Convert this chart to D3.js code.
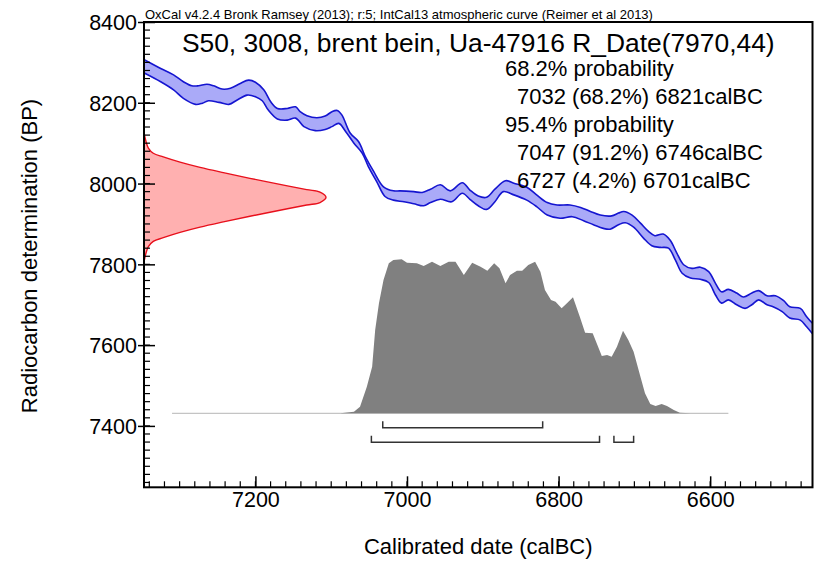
<!DOCTYPE html>
<html><head><meta charset="utf-8">
<script src="https://cdn.jsdelivr.net/npm/d3@7"></script>
<style>
body{margin:0;background:#fff}
text{font-family:"Liberation Sans",Arial,sans-serif;fill:#000}
</style>
</head><body>
<svg id="c" width="839" height="561"></svg>
<script>
// ---------- data ----------
const yTicks = [7400, 7600, 7800, 8000, 8200, 8400];
const xTicks = [7200, 7000, 6800, 6600];

const headerText = "OxCal v4.2.4 Bronk Ramsey (2013); r:5; IntCal13 atmospheric curve (Reimer et al 2013)";
const titleText = "S50, 3008, brent bein, Ua-47916 R_Date(7970,44)";
const statLines = ["68.2% probability", "7032 (68.2%) 6821calBC", "95.4% probability", "7047 (91.2%) 6746calBC", "6727 (4.2%) 6701calBC"];
const statIndent = [false, true, false, true, true];

// calibration curve (IntCal13) band edges, calBC year -> BP
const upperYear = [7346,7325,7308,7295,7284,7275,7264,7255,7244,7233,7220,7209,7200,7189,7180,7171,7158,7147,7141,7132,7119,7108,7099,7092,7086,7075,7064,7055,7044,7031,7018,7009,6991,6980,6969,6956,6943,6927,6917,6906,6895,6884,6870,6859,6842,6829,6815,6802,6785,6771,6758,6745,6730,6721,6714,6703,6692,6681,6673,6662,6653,6644,6635,6624,6613,6602,6593,6585,6576,6565,6556,6545,6536,6525,6514,6503,6495,6481,6473,6465];
const upperBP   = [8306,8285,8269,8252,8242,8242,8246,8242,8234,8236,8248,8256,8251,8232,8203,8186,8186,8190,8178,8168,8163,8167,8178,8181,8170,8125,8104,8067,8030,7992,7982,7982,7980,7978,7986,7997,7982,8002,7984,7969,7966,7986,8007,8001,7991,7972,7953,7947,7947,7941,7931,7922,7920,7927,7931,7922,7902,7881,7871,7875,7860,7828,7799,7790,7793,7782,7753,7732,7738,7729,7719,7729,7735,7722,7722,7710,7695,7691,7671,7654];
const lowerYear = [7346,7325,7308,7295,7279,7270,7262,7248,7235,7224,7211,7200,7191,7183,7171,7158,7147,7136,7121,7108,7099,7090,7081,7070,7059,7051,7040,7029,7018,7004,6991,6978,6969,6956,6941,6927,6917,6906,6895,6884,6873,6859,6842,6829,6815,6798,6782,6767,6754,6741,6732,6721,6712,6701,6688,6677,6666,6655,6646,6637,6626,6613,6602,6593,6585,6576,6565,6554,6545,6536,6525,6517,6505,6495,6481,6473,6465];
const lowerBP   = [8273,8252,8232,8211,8196,8199,8205,8201,8196,8207,8219,8215,8205,8182,8160,8157,8162,8141,8131,8134,8141,8149,8129,8100,8075,8042,8005,7968,7959,7955,7950,7945,7953,7961,7955,7976,7961,7945,7936,7955,7980,7972,7959,7943,7922,7914,7918,7908,7898,7889,7887,7898,7903,7892,7865,7846,7842,7840,7811,7778,7766,7763,7755,7724,7704,7712,7700,7691,7700,7712,7700,7695,7683,7667,7662,7646,7628];

// radiocarbon determination (BP) and relative density
const rcBP      = [8126,8104,8088,8075,8066,8053,8040,8027,8013,7998,7985,7979,7966,7953,7947,7934,7919,7905,7892,7879,7866,7857,7844,7828,7806];
const rcDensity = [0,0.011,0.024,0.051,0.106,0.198,0.308,0.436,0.582,0.747,0.894,0.967,1.0,0.967,0.894,0.747,0.582,0.436,0.308,0.198,0.106,0.051,0.024,0.011,0];

// calibrated probability distribution, calBC year -> relative probability
const calYear = [7310,7088,7070,7062,7053,7046,7042,7037,7031,7024,7018,7007,7000,6987,6978,6967,6956,6945,6936,6925,6914,6903,6894,6885,6878,6870,6864,6855,6848,6840,6831,6824,6818,6810,6804,6796,6789,6781,6772,6765,6755,6743,6736,6730,6723,6715,6708,6701,6692,6686,6679,6672,6664,6657,6648,6640,6626,6576];
const calProb = [0,0,0.01,0.043,0.173,0.303,0.541,0.714,0.866,0.974,0.995,1.0,0.978,0.974,0.956,0.984,0.956,0.984,0.984,0.898,0.978,0.952,0.926,0.974,0.942,0.844,0.898,0.926,0.926,0.963,0.984,0.919,0.801,0.736,0.725,0.682,0.714,0.753,0.627,0.523,0.519,0.372,0.379,0.368,0.432,0.536,0.476,0.4,0.238,0.13,0.06,0.047,0.06,0.047,0.021,0.004,0,0];

// highest probability ranges [from, to] calBC
const range68 = [[7032, 6821]];
const range95 = [[7047, 6746], [6727, 6701]];

// ---------- layout ----------
const L = 144, R = 812.5, T = 22, B = 487.3;
const svg = d3.select("#c");
const x = d3.scaleLinear().domain([7347, 6465]).range([L, R]);
const y = d3.scaleLinear().domain([7248, 8400]).range([B, T]);
const yProb = d3.scaleLinear().domain([0, 1]).range([413.3, 259.3]);
const xDens = d3.scaleLinear().domain([0, 1]).range([L, 326]);

svg.append("defs").append("clipPath").attr("id", "plotclip")
  .append("rect").attr("x", L).attr("y", T).attr("width", R - L).attr("height", B - T);

const plot = svg.append("g").attr("clip-path", "url(#plotclip)");

// calibration curve band
const upper = upperYear.map((d, i) => [x(d), y(upperBP[i])]);
const lower = lowerYear.map((d, i) => [x(d), y(lowerBP[i])]);
const edge = d3.line().curve(d3.curveCatmullRom);
const fillPath = edge(upper) + "L" + edge(lower.slice().reverse()).slice(1) + "Z";
plot.append("path").attr("d", fillPath).attr("fill", "#aaaaf8").attr("stroke", "none");
plot.append("path").attr("d", edge(upper)).attr("fill", "none").attr("stroke", "#1515d0").attr("stroke-width", 1.6);
plot.append("path").attr("d", edge(lower)).attr("fill", "none").attr("stroke", "#1515d0").attr("stroke-width", 1.6);

// radiocarbon determination
const rc = rcBP.map((d, i) => ({bp: d, p: rcDensity[i]}));
plot.append("path").datum(rc)
  .attr("d", d3.area().curve(d3.curveCatmullRom).y(d => y(d.bp)).x0(L).x1(d => xDens(d.p)))
  .attr("fill", "#ffb0b0");
plot.append("path").datum(rc)
  .attr("d", d3.line().curve(d3.curveCatmullRom).y(d => y(d.bp)).x(d => xDens(d.p)))
  .attr("fill", "none").attr("stroke", "#e8101c").attr("stroke-width", 1.4);

// calibrated distribution
const cal = calYear.map((d, i) => ({yr: d, p: calProb[i]}));
plot.append("line").attr("x1", x(calYear[0])).attr("x2", x(calYear[calYear.length - 1]))
  .attr("y1", yProb(0)).attr("y2", yProb(0)).attr("stroke", "#c4c4c4").attr("stroke-width", 1.2);
plot.append("path").datum(cal.slice(1, -1))
  .attr("d", d3.area().x(d => x(d.yr)).y0(yProb(0)).y1(d => yProb(d.p)))
  .attr("fill", "#808080");

// range brackets
function brackets(ranges, yy) {
  ranges.forEach(r => {
    const x1 = x(r[0]), x2 = x(r[1]);
    plot.append("path")
      .attr("d", `M${x1},${yy - 6.5}V${yy}H${x2}V${yy - 6.5}`)
      .attr("fill", "none").attr("stroke", "#333").attr("stroke-width", 1.5);
  });
}
brackets(range68, 427.7);
brackets(range95, 442.3);

// ---------- axes ----------
const fs = 21.5;
// y axis minor ticks
const yMinor = d3.range(7260, 8401, 20);
const yAx = svg.append("g");
yAx.selectAll("line.minor").data(yMinor).join("line")
  .attr("x1", L).attr("x2", L + 6).attr("y1", d => y(d)).attr("y2", d => y(d))
  .attr("stroke", "#000").attr("stroke-width", 1.2);
const yAxis = svg.append("g").attr("transform", `translate(${L},0)`)
  .call(d3.axisLeft(y).tickValues(yTicks).tickSizeOuter(0).tickFormat(d3.format("d")));
yAxis.select(".domain").remove();
yAxis.selectAll(".tick line").attr("x1", -6).attr("x2", 11).attr("stroke", "#000").attr("stroke-width", 1.5);
yAxis.selectAll(".tick text").attr("x", -7).attr("dy", "0.36em")
  .style("font-size", fs + "px").style("font-family", '"Liberation Sans",Arial,sans-serif');

// x axis
const xMinor = d3.range(6480, 7341, 20);
const xAx = svg.append("g");
xAx.selectAll("line.minor").data(xMinor).join("line")
  .attr("x1", d => x(d)).attr("x2", d => x(d)).attr("y1", B).attr("y2", B - 6)
  .attr("stroke", "#000").attr("stroke-width", 1.2);
const xAxis = svg.append("g").attr("transform", `translate(0,${B})`)
  .call(d3.axisBottom(x).tickValues(xTicks).tickSizeOuter(0).tickFormat(d3.format("d")));
xAxis.select(".domain").remove();
xAxis.selectAll(".tick line").attr("y1", 0).attr("y2", -11).attr("stroke", "#000").attr("stroke-width", 1.5);
xAxis.selectAll(".tick text").attr("y", 19.5).attr("dy", "0")
  .style("font-size", fs + "px").style("font-family", '"Liberation Sans",Arial,sans-serif');

// frame
svg.append("rect").attr("x", L).attr("y", T).attr("width", R - L).attr("height", B - T)
  .attr("fill", "none").attr("stroke", "#000").attr("stroke-width", 2);

// ---------- texts ----------
svg.append("text").attr("x", L + 1).attr("y", 19).style("font-size", "13px").text(headerText);
svg.append("text").attr("x", (L + R) / 2).attr("y", 52).attr("text-anchor", "middle")
  .style("font-size", "26.4px").text(titleText);
statLines.forEach((s, i) => {
  svg.append("text").attr("x", statIndent[i] ? 517 : 505).attr("y", 76 + i * 28)
    .style("font-size", "22px").text(s);
});
svg.append("text").attr("x", (L + R) / 2).attr("y", 554).attr("text-anchor", "middle")
  .style("font-size", "22px").text("Calibrated date (calBC)");
svg.append("text").attr("transform", "translate(37,256) rotate(-90)").attr("text-anchor", "middle")
  .style("font-size", "22px").text("Radiocarbon determination (BP)");
</script>
</body></html>
